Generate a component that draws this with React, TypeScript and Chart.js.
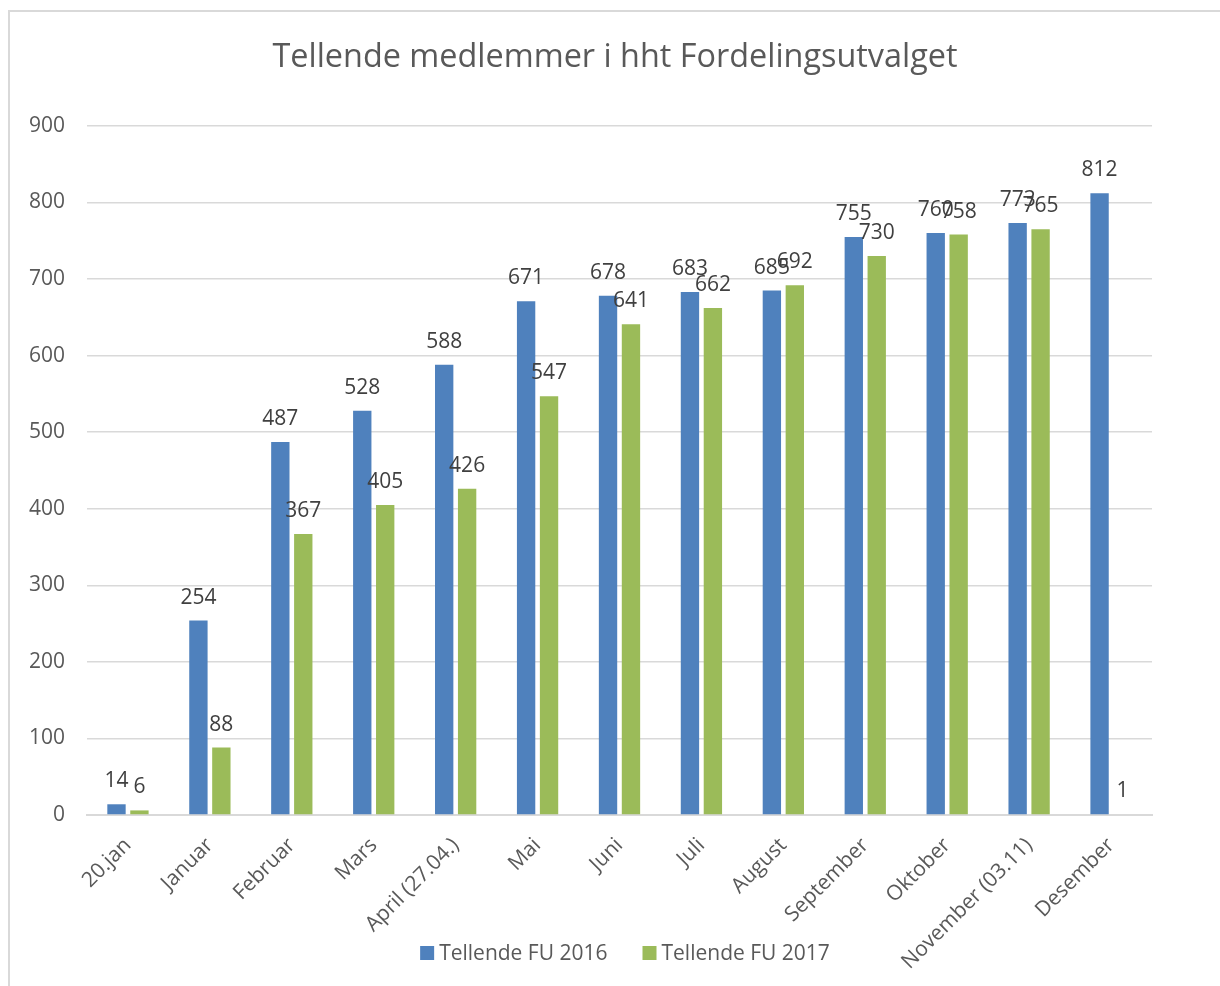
import React, { useEffect, useRef } from "react";
import { Chart, registerables } from "chart.js";

Chart.register(...registerables);

const categories = [
  "20.jan",
  "Januar",
  "Februar",
  "Mars",
  "April (27.04.)",
  "Mai",
  "Juni",
  "Juli",
  "August",
  "September",
  "Oktober",
  "November (03.11)",
  "Desember",
];
const fu2016 = [14, 254, 487, 528, 588, 671, 678, 683, 685, 755, 760, 773, 812];
const fu2017 = [6, 88, 367, 405, 426, 547, 641, 662, 692, 730, 758, 765, 1];
const seriesNames = ["Tellende FU 2016", "Tellende FU 2017"];
const seriesColors = ["#4f81bd", "#9bbb59"];
const titleText = "Tellende medlemmer i hht Fordelingsutvalget";

const FONT = "'Open Sans', 'Noto Sans', sans-serif";

const dataLabelPlugin = {
  id: "dataLabels",
  afterDatasetsDraw(chart: any) {
    const ctx = chart.ctx;
    ctx.save();
    ctx.font = `21px ${FONT}`;
    ctx.fillStyle = "#404040";
    ctx.textAlign = "center";
    ctx.textBaseline = "alphabetic";
    chart.data.datasets.forEach((ds: any, di: number) => {
      const meta = chart.getDatasetMeta(di);
      meta.data.forEach((bar: any, i: number) => {
        ctx.fillText(String(ds.data[i]), bar.x, bar.y - 17);
      });
    });
    ctx.restore();
  },
};

// Legend drawn over the bottom band (overlapping the rotated category labels, as in the source)
const bottomLegendPlugin = {
  id: "bottomLegend",
  afterDraw(chart: any) {
    const ctx = chart.ctx;
    ctx.save();
    ctx.font = `21px ${FONT}`;
    ctx.textBaseline = "middle";
    ctx.textAlign = "left";
    const box = 14;
    const gapText = 5;
    const gapItem = 35;
    const items = chart.data.datasets.map((ds: any) => ({
      text: ds.label,
      color: ds.backgroundColor,
      w: ctx.measureText(ds.label).width,
    }));
    const total =
      items.reduce((s: number, it: any) => s + box + gapText + it.w, 0) +
      gapItem * (items.length - 1);
    let x = chart.width / 2 + 10 - total / 2;
    const cy = chart.height - 33;
    items.forEach((it: any) => {
      ctx.fillStyle = it.color;
      ctx.fillRect(x, cy - box / 2, box, box);
      x += box + gapText;
      ctx.fillStyle = "#595959";
      ctx.fillText(it.text, x, cy + 1);
      x += it.w + gapItem;
    });
    ctx.restore();
  },
};

export default function App() {
  const ref = useRef<HTMLCanvasElement | null>(null);
  useEffect(() => {
    if (!ref.current) return;
    const chart = new Chart(ref.current, {
      type: "bar",
      data: {
        labels: categories,
        datasets: [
          {
            label: seriesNames[0],
            data: fu2016,
            backgroundColor: seriesColors[0],
            barPercentage: 0.8,
            categoryPercentage: 0.56,
          },
          {
            label: seriesNames[1],
            data: fu2017,
            backgroundColor: seriesColors[1],
            barPercentage: 0.8,
            categoryPercentage: 0.56,
          },
        ],
      },
      options: {
        animation: false,
        responsive: true,
        maintainAspectRatio: false,
        layout: { padding: { left: 0, right: 0, top: 0, bottom: 0 } },
        plugins: {
          title: {
            display: true,
            text: titleText,
            color: "#595959",
            font: { family: FONT, size: 32.4, weight: "normal" },
            padding: { top: 26, bottom: 49 },
          },
          legend: { display: false },
          tooltip: { enabled: false },
        },
        scales: {
          x: {
            grid: { display: false, drawTicks: false },
            border: { color: "#d9d9d9", width: 2 },
            ticks: {
              color: "#595959",
              font: { family: FONT, size: 21 },
              maxRotation: 45,
              minRotation: 45,
              padding: 18,
              autoSkip: false,
            },
            afterFit(scale: any) {
              scale.height = 171;
            },
          },
          y: {
            min: 0,
            max: 900,
            grid: { color: "#d9d9d9", lineWidth: 1.5, drawTicks: false },
            border: { display: false },
            ticks: {
              stepSize: 100,
              color: "#595959",
              font: { family: FONT, size: 21 },
              padding: 22,
            },
            afterFit(scale: any) {
              scale.width = 77;
            },
          },
          yRight: {
            type: "linear",
            position: "right",
            display: true,
            grid: { display: false, drawTicks: false },
            border: { display: false },
            ticks: { display: false },
            afterFit(scale: any) {
              scale.width = 68;
            },
          },
        },
      },
      plugins: [dataLabelPlugin, bottomLegendPlugin],
    });
    return () => chart.destroy();
  }, []);

  return (
    <div
      style={{
        position: "absolute",
        left: 8,
        top: 10,
        width: 1212,
        height: 976,
        borderLeft: "2px solid #d9d9d9",
        borderTop: "2px solid #d9d9d9",
        boxSizing: "border-box",
        background: "#fff",
      }}
    >
      <canvas ref={ref} />
    </div>
  );
}
